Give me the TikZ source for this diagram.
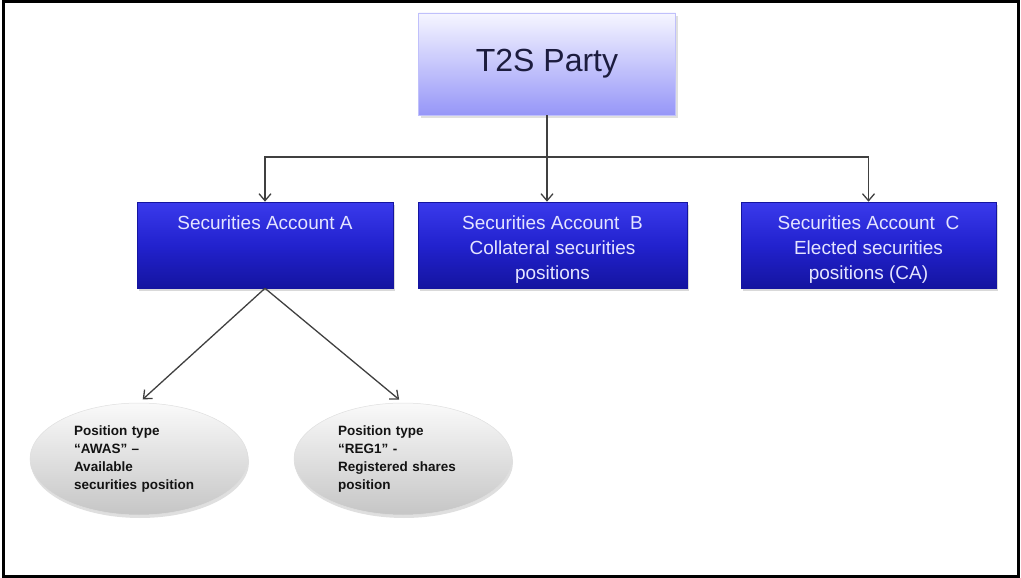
\documentclass[tikz,border=0pt]{standalone}
\usepackage{fontspec}
\setmainfont{Liberation Sans}
\usetikzlibrary{shapes.geometric,shadows,arrows.meta}

\definecolor{partytop}{RGB}{246,246,255}
\definecolor{partybot}{RGB}{150,150,248}
\definecolor{partytxt}{RGB}{28,28,62}
\definecolor{accttop}{RGB}{58,58,236}
\definecolor{acctmid}{RGB}{34,34,206}
\definecolor{acctbot}{RGB}{20,20,160}
\definecolor{accttxt}{RGB}{228,228,255}
\definecolor{conline}{RGB}{64,64,64}

\newcommand{\acctbox}[1]{\parbox[c][82pt][t]{236pt}{\centering\vspace*{12pt}#1}}

\begin{document}
\begin{tikzpicture}[x=1pt, y=-1pt,
    >={Straight Barb[length=7pt,width=12pt]},
    party/.style={rectangle, draw=partybot!60!white, line width=0.6pt,
      top color=partytop, bottom color=partybot,
      minimum width=257pt, minimum height=102pt, text=partytxt,
      font=\fontsize{32}{38}\selectfont,
      drop shadow={opacity=0.25, shadow xshift=2pt, shadow yshift=-3pt}},
    acct/.style={rectangle, draw=acctbot, line width=0.6pt,
      top color=accttop, bottom color=acctbot, middle color=acctmid,
      minimum height=86pt, inner sep=2pt, text=accttxt,
      font=\fontsize{19}{25}\selectfont,
      drop shadow={opacity=0.3, shadow xshift=2pt, shadow yshift=-3pt}},
    posn/.style={ellipse, draw=gray!25, line width=0.5pt,
      top color=gray!4, bottom color=gray!45,
      minimum width=218pt, minimum height=112pt, inner sep=0pt,
      text width=130pt, align=left, text=gray!15!black,
      font=\fontsize{13.5}{18}\selectfont\bfseries,
      drop shadow={opacity=0.25, shadow xshift=1pt, shadow yshift=-3pt}},
    con/.style={draw=conline, line width=1.3pt}]

    \useasboundingbox (0,0) rectangle (1021,578);
    \draw [line width=3pt] (3,2) rectangle (1018,576);

    \node [party] (p) at (547, 64) {T2S Party};
    \node [acct, minimum width=256pt] (a) at (265, 245) {\acctbox{Securities Account A}};
    \node [acct, minimum width=269pt] (b) at (552.5, 245) {\acctbox{Securities Account\ \ B\\Collateral securities\\positions}};
    \node [acct, minimum width=255pt] (c) at (868.5, 245) {\acctbox{Securities Account\ \ C\\Elected securities\\positions (CA)}};
    \node [posn] (d) at (139, 459) {Position type\\“AWAS” –\\Available\\securities position};
    \node [posn] (e) at (403, 459) {Position type\\“REG1” -\\Registered shares\\position};
    \coordinate (j) at (547, 157);

    \draw [con] (p) -- (j);
    \draw [con, ->] (j) -| (a);
    \draw [con, ->] (j) -- (j |- b.north);
    \draw [con, ->] (j) -| (c);
    \draw [con, ->, shorten >=5pt] (a.south) -- (d.north);
    \draw [con, ->, shorten >=5pt] (a.south) -- (e.north);

  \end{tikzpicture}
\end{document}
